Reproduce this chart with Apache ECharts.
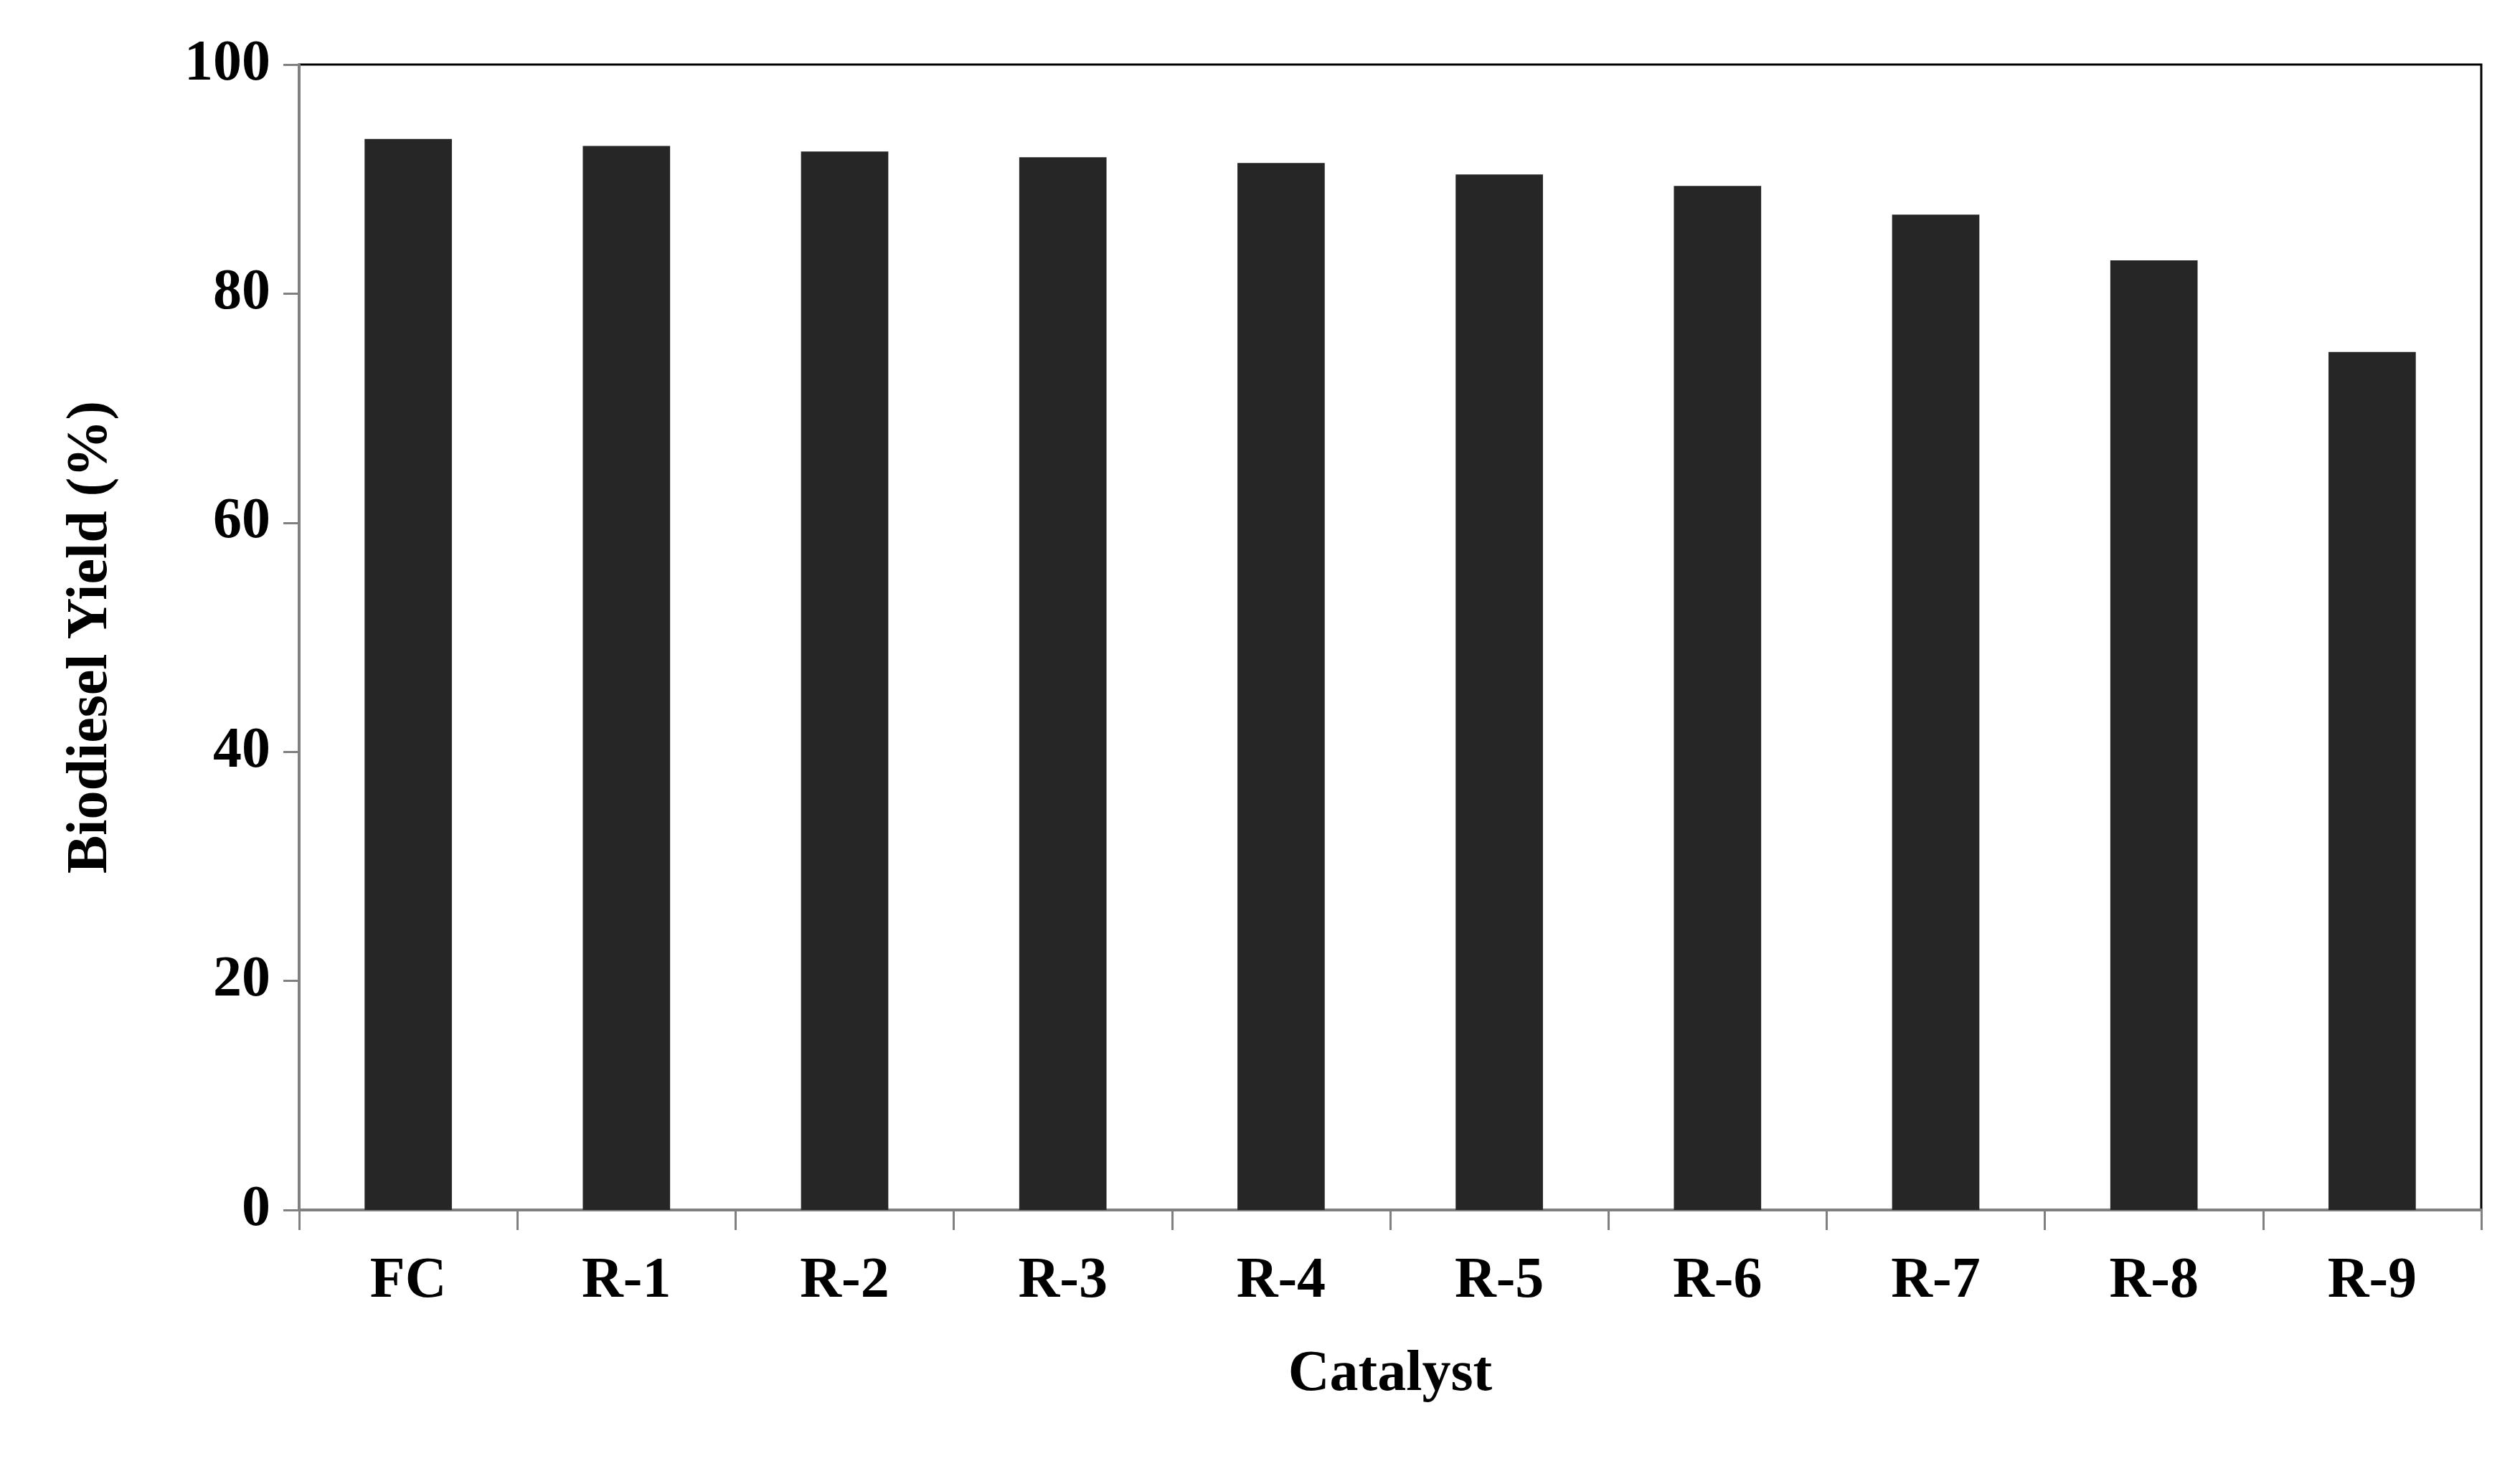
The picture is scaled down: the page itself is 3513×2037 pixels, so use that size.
<!DOCTYPE html>
<html><head><meta charset="utf-8">
<script src="https://cdn.jsdelivr.net/npm/echarts@6/dist/echarts.min.js"></script>
<style>html,body{margin:0;background:#fff}#c{width:3513px;height:2037px}</style>
</head><body><div id="c"></div>
<script>
const categories = ['FC','R-1','R-2','R-3','R-4','R-5','R-6','R-7','R-8','R-9'];
const yieldValues = [93.5, 92.9, 92.4, 91.9, 91.4, 90.4, 89.4, 86.9, 82.9, 74.9];
const yTicks = [0, 20, 40, 60, 80, 100];
const font = 'Liberation Serif';
const chart = echarts.init(document.getElementById('c'));
chart.setOption({
  animation: false,
  grid: {left: 417, right: 54, top: 90, bottom: 350, show: true, borderColor: '#000', borderWidth: 3, backgroundColor: 'transparent'},
  xAxis: {
    type: 'category', data: categories, name: 'Catalyst', nameLocation: 'middle', nameGap: 190,
    nameTextStyle: {fontFamily: font, fontWeight: 'bold', fontSize: 80, color: '#000'},
    axisLine: {lineStyle: {color: '#808080', width: 4}},
    axisTick: {show: true, alignWithLabel: false, length: 28, lineStyle: {color: '#808080', width: 3}},
    axisLabel: {fontFamily: font, fontWeight: 'bold', fontSize: 80, color: '#000', margin: 60}
  },
  yAxis: {
    type: 'value', min: 0, max: 100, interval: 20,
    name: 'Biodiesel Yield (%)', nameLocation: 'middle', nameGap: 250,
    nameTextStyle: {fontFamily: font, fontWeight: 'bold', fontSize: 80, color: '#000'},
    axisLine: {show: true, lineStyle: {color: '#808080', width: 4}},
    axisTick: {show: true, length: 22, lineStyle: {color: '#808080', width: 3}},
    splitLine: {show: false},
    axisLabel: {fontFamily: font, fontWeight: 'bold', fontSize: 80, color: '#000', margin: 40,
      formatter: v => yTicks.includes(v) ? String(v) : ''}
  },
  series: [{type: 'bar', data: yieldValues, barWidth: '40%', itemStyle: {color: '#262626'}}]
});
</script></body></html>
